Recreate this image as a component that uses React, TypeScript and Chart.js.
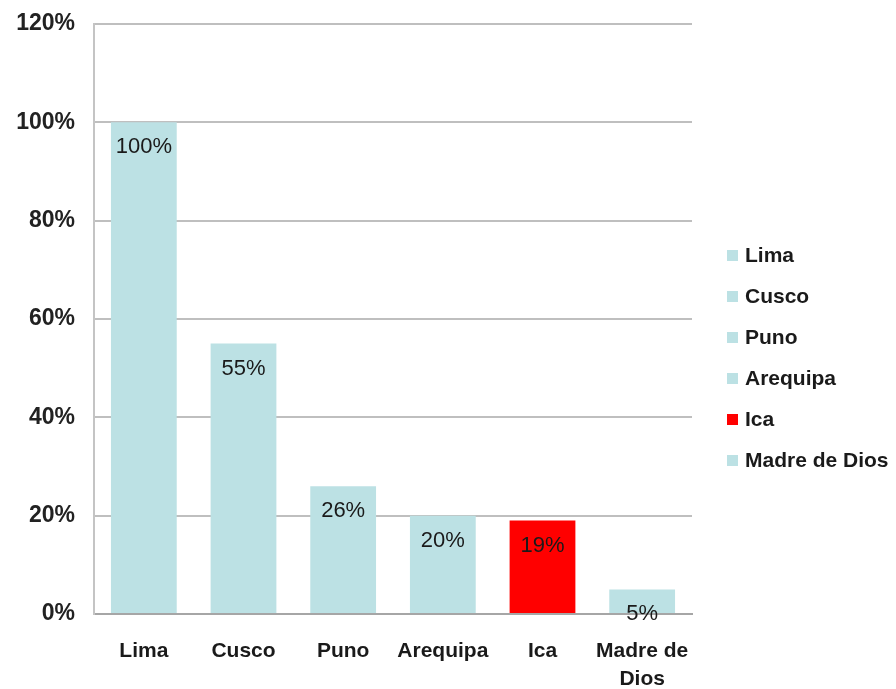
import React, { useEffect, useRef } from "react";
import { Chart, registerables } from "chart.js";

Chart.register(...registerables);

const categories: string[] = ["Lima", "Cusco", "Puno", "Arequipa", "Ica", "Madre de Dios"];
const axisLabels: (string | string[])[] = ["Lima", "Cusco", "Puno", "Arequipa", "Ica", ["Madre de", "Dios"]];
const values: number[] = [100, 55, 26, 20, 19, 5];
const barColors: string[] = ["#BCE1E4", "#BCE1E4", "#BCE1E4", "#BCE1E4", "#FF0000", "#BCE1E4"];
const yTicks: number[] = [0, 20, 40, 60, 80, 100, 120];

const FONT = "'Liberation Sans', Arial, sans-serif";

const valueLabelPlugin = {
  id: "valueLabels",
  afterDatasetsDraw(chart: any) {
    const ctx = chart.ctx;
    const meta = chart.getDatasetMeta(0);
    ctx.save();
    ctx.font = `22px ${FONT}`;
    ctx.fillStyle = "#1a1a1a";
    ctx.textAlign = "center";
    ctx.textBaseline = "middle";
    meta.data.forEach((bar: any, i: number) => {
      ctx.fillText(`${values[i]}%`, bar.x, bar.y + 25);
    });
    ctx.restore();
  },
};

const sideLegendPlugin = {
  id: "sideLegend",
  afterDraw(chart: any) {
    const ctx = chart.ctx;
    const area = chart.chartArea;
    const x0 = area.right + 35;
    const y0 = area.top + 232;
    const step = 41;
    ctx.save();
    ctx.font = `bold 21px ${FONT}`;
    ctx.textBaseline = "middle";
    ctx.textAlign = "left";
    categories.forEach((name, i) => {
      const y = y0 + i * step;
      ctx.fillStyle = barColors[i];
      ctx.fillRect(x0, y - 6, 11, 11);
      ctx.fillStyle = "#1a1a1a";
      ctx.fillText(name, x0 + 18, y);
    });
    ctx.restore();
  },
};

export default function App() {
  const ref = useRef<HTMLCanvasElement | null>(null);

  useEffect(() => {
    if (!ref.current) return;
    const chart = new Chart(ref.current, {
      type: "bar",
      data: {
        labels: axisLabels,
        datasets: [
          {
            data: values,
            backgroundColor: barColors,
            borderWidth: 0,
            categoryPercentage: 1,
            barPercentage: 0.66,
          },
        ],
      },
      options: {
        animation: false,
        responsive: false,
        maintainAspectRatio: false,
        layout: { padding: { top: 24, right: 204, bottom: 0, left: 0 } },
        plugins: {
          legend: { display: false },
          tooltip: { enabled: false },
        },
        scales: {
          x: {
            grid: { display: false, drawTicks: false },
            border: { display: true, color: "#a6a6a6", width: 2 },
            ticks: {
              color: "#1a1a1a",
              font: { family: FONT, size: 21, weight: "bold", lineHeight: 1.35 },
              padding: 23,
              maxRotation: 0,
              autoSkip: false,
            },
            afterFit: (scale: any) => {
              scale.height = 75;
            },
          },
          y: {
            min: 0,
            max: 120,
            afterBuildTicks: (scale: any) => {
              scale.ticks = yTicks.map((v) => ({ value: v }));
            },
            grid: { color: "#bfbfbf", lineWidth: 2, drawTicks: false },
            border: { display: true, color: "#c4c4c4", width: 2 },
            ticks: {
              color: "#222222",
              font: { family: FONT, size: 23, weight: "bold" },
              padding: 19,
              callback: (v: any) => `${v}%`,
            },
            afterFit: (scale: any) => {
              scale.width = 94;
              scale.paddingTop = 0;
              scale.paddingBottom = 0;
            },
          },
        },
      },
      plugins: [valueLabelPlugin, sideLegendPlugin],
    });
    return () => chart.destroy();
  }, []);

  return (
    <div style={{ position: "fixed", left: 0, top: 0, width: 896, height: 689, background: "#ffffff" }}>
      <canvas ref={ref} width={896} height={689} style={{ width: 896, height: 689 }} />
    </div>
  );
}
